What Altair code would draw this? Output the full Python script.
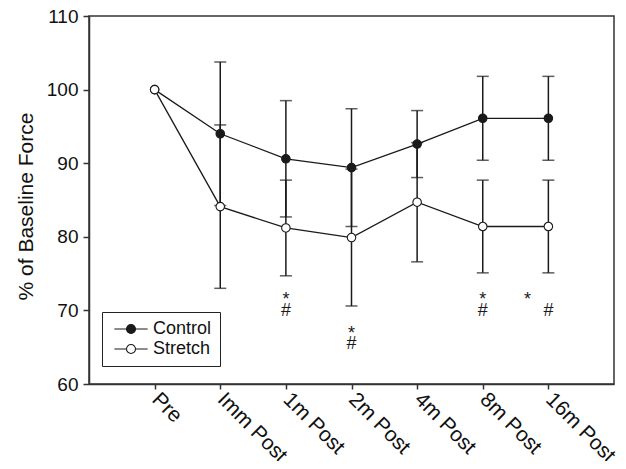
import altair as alt
import pandas as pd

times = ["Pre", "Imm Post", "1m Post", "2m Post", "4m Post", "8m Post", "16m Post"]
control_mean = [100, 94.0, 90.6, 89.4, 92.6, 96.1, 96.1]
control_sd = [0, 9.75, 7.9, 8.0, 4.55, 5.7, 5.7]
stretch_mean = [100, 84.1, 81.2, 79.9, 84.7, 81.4, 81.4]
stretch_sd = [0, 11.1, 6.5, 9.3, 8.1, 6.3, 6.3]

# significance annotations
ann_time = ["1m Post", "1m Post", "2m Post", "2m Post", "8m Post", "8m Post", "16m Post"]
ann_text = ["*", "#", "*", "#", "*", "#", "#"]
ann_y = [70.7, 69.3, 66.1, 64.7, 70.7, 69.3, 69.3]
lone_star_time = ["16m Post"]
lone_star_y = [70.7]

rows = []
for g, means, sds in [("Control", control_mean, control_sd), ("Stretch", stretch_mean, stretch_sd)]:
    for t, m, s in zip(times, means, sds):
        rows.append({"time": t, "group": g, "mean": m, "sd": s, "lo": m - s, "hi": m + s})
df = pd.DataFrame(rows)
ann = pd.DataFrame({"time": ann_time, "text": ann_text, "y": ann_y})
lone = pd.DataFrame({"time": lone_star_time, "text": ["*"], "y": lone_star_y})

ink = "#1a1a1a"
xscale = alt.Scale(type="point", domain=times, padding=1)
yscale = alt.Scale(domain=[60, 110], nice=False, zero=False)

x_enc = alt.X("time:N", scale=xscale, sort=times,
              axis=alt.Axis(title=None, labelAngle=45, labelAlign="left", labelBaseline="middle",
                            labelFontSize=21, tickSize=5, labelPadding=7, grid=False))
y_enc = alt.Y("mean:Q", scale=yscale,
              axis=alt.Axis(title="% of Baseline Force", values=[60, 70, 80, 90, 100, 110],
                            labelFontSize=19, tickSize=6, labelPadding=5, grid=False,
                            titleFontSize=21, titleFontWeight="normal", titleX=-57, titleY=190,
                            titleBaseline="alphabetic"))

base = alt.Chart(df)
err = base.transform_filter("datum.sd > 0").mark_rule(color=ink, strokeWidth=1.5).encode(
    x=x_enc, y=alt.Y("lo:Q", scale=yscale), y2="hi:Q", detail="group:N")
cap_lo = base.transform_filter("datum.sd > 0").mark_tick(orient="horizontal", size=12, thickness=1.5, color=ink).encode(
    x=x_enc, y=alt.Y("lo:Q", scale=yscale), detail="group:N")
cap_hi = base.transform_filter("datum.sd > 0").mark_tick(orient="horizontal", size=12, thickness=1.5, color=ink).encode(
    x=x_enc, y=alt.Y("hi:Q", scale=yscale), detail="group:N")
lines = base.mark_line(color=ink, strokeWidth=1.3).encode(x=x_enc, y=y_enc, detail="group:N")

legend_path = "M-3.7,0H-1M1,0H3.7M-1,0A1,1,0,1,1,1,0A1,1,0,1,1,-1,0Z"
points = base.mark_point(filled=True, size=72, stroke=ink, strokeWidth=1.1, opacity=1).encode(
    x=x_enc, y=y_enc,
    fill=alt.Fill("group:N", scale=alt.Scale(domain=["Control", "Stretch"], range=[ink, "white"]),
                  legend=alt.Legend(title=None, orient="none", legendX=13, legendY=296,
                                    symbolType=legend_path, symbolSize=81,
                                    symbolStrokeColor=ink, symbolStrokeWidth=1.1,
                                    symbolOffset=12, labelOffset=13, labelFontSize=18,
                                    padding=8, rowPadding=2, strokeColor="#222",
                                    labelColor="#111")))

texts = alt.Chart(ann).mark_text(fontSize=18, baseline="alphabetic", color=ink, fill=ink).encode(
    x=alt.X("time:N", scale=xscale, sort=times), y=alt.Y("y:Q", scale=yscale), text="text:N")
lone_text = alt.Chart(lone).mark_text(fontSize=18, baseline="alphabetic", color=ink, fill=ink, dx=-21).encode(
    x=alt.X("time:N", scale=xscale, sort=times), y=alt.Y("y:Q", scale=yscale), text="text:N")

chart = alt.layer(err, cap_lo, cap_hi, lines, points, texts, lone_text).properties(
    width=525, height=368,
    autosize=alt.AutoSizeParams(type="none"),
    padding={"left": 81, "top": 8, "right": 4, "bottom": 77},
).configure(font="Liberation Sans").configure_view(
    stroke="#333", strokeWidth=1.5
).configure_axis(
    domainColor="#333", domainWidth=1.5, tickColor="#333", tickWidth=1.5,
    labelColor="#111", titleColor="#111", labelFont="Liberation Sans", titleFont="Liberation Sans"
)

chart.save("out.html", embed_options={"renderer": "svg", "actions": False})
